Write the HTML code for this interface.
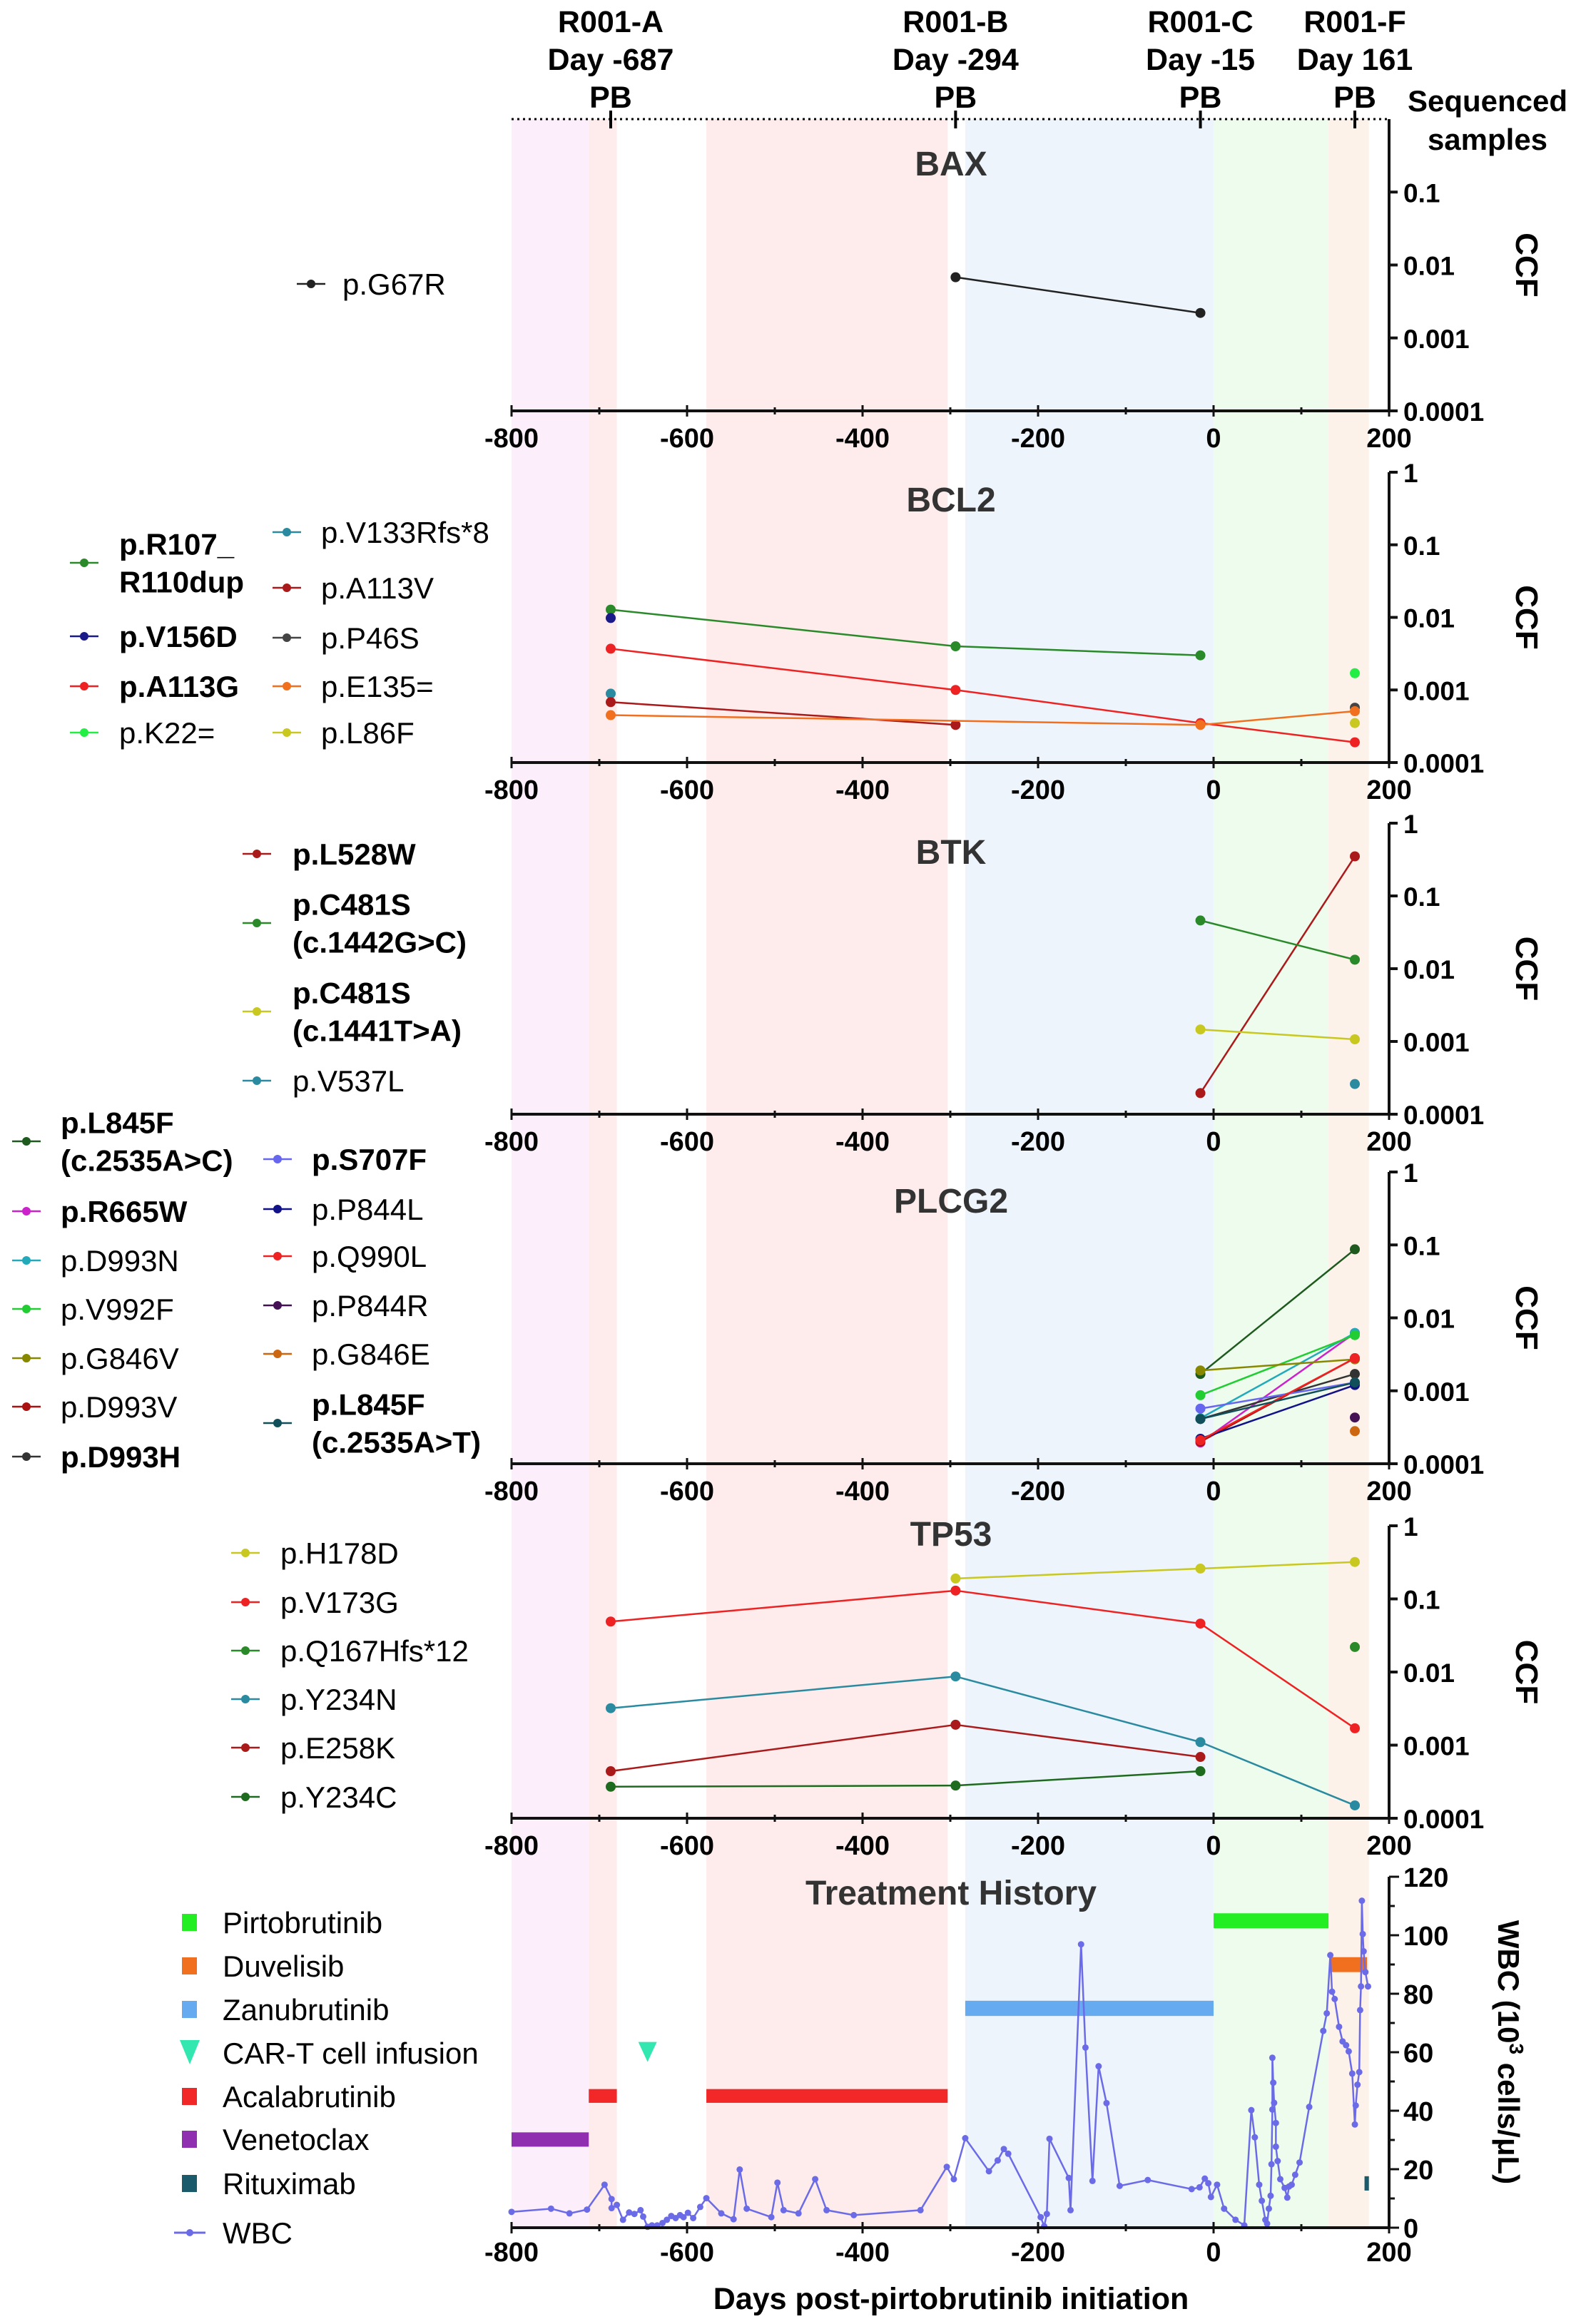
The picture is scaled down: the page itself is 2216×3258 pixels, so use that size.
<!DOCTYPE html>
<html><head><meta charset="utf-8"><style>
html,body{margin:0;padding:0;background:#fff}
svg{display:block;font-family:"Liberation Sans",Arial,sans-serif}
</style></head><body>
<svg id="chart" width="2216" height="3258" viewBox="0 0 2216 3258"></svg>
<script>
// ---- data ----
const sampleNames = ["R001-A","R001-B","R001-C","R001-F"];
const sampleDays = [-687,-294,-15,161];
const xTicks = [-800,-600,-400,-200,0,200];
const ccfTicks = [1,0.1,0.01,0.001,0.0001];
const ccfTickLabels = ["1","0.1","0.01","0.001","0.0001"];

const baxNames = ["p.G67R"];
const baxValues = [[null,0.0068,0.0022,null]];

const bcl2Names = ["p.R107_\nR110dup","p.V156D","p.A113G","p.K22=","p.V133Rfs*8","p.A113V","p.P46S","p.E135=","p.L86F"];
const bcl2Values = [
 [0.0128,0.004,0.003,null],
 [0.0098,null,null,null],
 [0.0037,0.001,0.00035,0.00019],
 [null,null,null,0.0017],
 [0.00089,null,null,null],
 [0.00068,0.00033,null,null],
 [null,null,null,0.00057],
 [0.00045,null,0.00033,0.00051],
 [null,null,null,0.00035]];

const btkNames = ["p.L528W","p.C481S\n(c.1442G>C)","p.C481S\n(c.1441T>A)","p.V537L"];
const btkValues = [
 [null,null,0.000195,0.35],
 [null,null,0.046,0.0133],
 [null,null,0.00146,0.00107],
 [null,null,null,0.00026]];

const plcg2Names = ["p.L845F\n(c.2535A>C)","p.R665W","p.D993N","p.V992F","p.G846V","p.D993V","p.D993H","p.S707F","p.P844L","p.Q990L","p.P844R","p.G846E","p.L845F\n(c.2535A>T)"];
const plcg2Values = [
 [null,null,0.0017,0.087],
 [null,null,0.000195,0.0062],
 [null,null,0.00042,0.0062],
 [null,null,0.00087,0.0058],
 [null,null,0.0019,0.0027],
 [null,null,0.0002,0.0028],
 [null,null,0.00041,0.0017],
 [null,null,0.00057,0.0013],
 [null,null,0.00022,0.0012],
 [null,null,0.00021,0.0028],
 [null,null,null,0.00043],
 [null,null,null,0.00028],
 [null,null,0.00041,0.0013]];

const tp53Names = ["p.H178D","p.V173G","p.Q167Hfs*12","p.Y234N","p.E258K","p.Y234C"];
const tp53Values = [
 [null,0.19,0.26,0.32],
 [0.049,0.13,0.046,0.0017],
 [null,null,null,0.022],
 [0.0032,0.0087,0.0011,0.00015],
 [0.00044,0.0019,0.00069,null],
 [0.00027,0.00028,0.00044,null]];

const wbcDays = [-800,-755,-734,-714,-694,-686,-686,-680,-673,-666,-660,-653,-650,-645,-640,-634,-628,-623,-618,-613,-608,-604,-599,-593,-585,-578,-561,-547,-540,-532,-504,-497,-490,-473,-454,-441,-410,-334,-304,-296,-283,-256,-246,-239,-234,-197,-193,-190,-187,-165,-163,-151,-146,-138,-131,-122,-107,-75,-25,-16,-10,-6,-3,4,12,25,35,43,47,52,55,59,61,63,65,66,67,67,68,69,71,71,73,76,81,84,86,89,93,98,109,125,129,133,135,138,143,147,151,154,158,161,162,164,166,167,168,169,170,171,173,176];
const wbcValues = [5.4,6.5,4.9,6.2,14.7,9.8,6.7,7.8,2.7,5.2,4.7,6.0,3.8,0.3,0.8,0.8,1.6,2.7,4.0,3.3,4.3,3.6,5.1,3.3,7.1,10.1,4.9,2.9,19.9,6.5,3.6,15.4,6.0,4.9,16.6,6.0,4.3,6.0,20.8,16.6,30.6,19.3,23.0,26.9,25.3,3.6,0.5,4.7,30.4,17.0,6.0,96.9,61.6,16.0,55.2,42.6,14.3,16.3,13.2,13.8,16.8,15.2,10.5,14.7,6.5,2.7,0.8,40.2,30.9,14.7,9.2,2.7,1.4,6.5,10.9,21.7,40.4,58.1,49.6,42.7,35.8,27.7,22.8,16.6,13.6,10.3,14.1,14.7,18.1,22.3,41.3,67.3,73.3,93.2,80.7,78.2,68.7,63.7,62.4,60.3,52.7,35.3,41.8,48.9,53.2,74.4,82.5,111.8,100.4,94.5,87.4,82.5];
const wbcTicks = [0,20,40,60,80,100,120];

const treatNames = ["Pirtobrutinib","Duvelisib","Zanubrutinib","CAR-T cell infusion","Acalabrutinib","Venetoclax","Rituximab","WBC"];
const treatStart = [0,133,-283,null,-712,-800,172,null];
const treatEnd = [131,175,0,null,-303,-712,177,null];
const treatLow = [102.4,87.4,72.4,null,42.7,27.7,12.7,null];
const treatHigh = [107.5,92.5,77.6,null,47.4,32.6,17.6,null];
const acalaSegments = [[-712,-680],[-578,-303]];
const cartDay = [-645];
const cartLevel = [63.5];

const bandStart = [-800,-712,-578,-283,0,131];
const bandEnd = [-712,-680,-303,0,131,177];

// ---- helpers / layout ----
const NS="http://www.w3.org/2000/svg";
const svg=document.getElementById('chart');
function mk(tag,attrs,parent){const e=document.createElementNS(NS,tag);for(const k in attrs)e.setAttribute(k,attrs[k]);(parent||svg).appendChild(e);return e;}
function txt(s,x,y,o,parent){const e=mk('text',Object.assign({x:x,y:y,'font-size':40,fill:'#000'},o||{}),parent);e.textContent=s;return e;}
const X0=717,X1=1947;
function xs(d){return X0+(d+800)*(X1-X0)/1000;}
const bandColors=['#fdeefb','#fdeceb','#fdeceb','#edf4fc','#eefcee','#fdf2ea'];

const bg=mk('g',{});


for(let i=0;i<bandStart.length;i++){
  const r=mk('rect',{x:xs(bandStart[i]),y:167,width:xs(bandEnd[i])-xs(bandStart[i]),height:3123-167,fill:bandColors[i]},bg);
  
  
}

// top sample header
const hdr=mk('g',{});


mk('line',{x1:X0,y1:167,x2:X1,y2:167,stroke:'#000','stroke-width':3,'stroke-dasharray':'3,5'},hdr);
for(let i=0;i<sampleDays.length;i++){
  const x=xs(sampleDays[i]);
  const g=mk('g',{},hdr);
  
  
  txt(sampleNames[i],x,45,{'text-anchor':'middle','font-weight':'bold','font-size':43},g);
  txt('Day '+sampleDays[i],x,98,{'text-anchor':'middle','font-weight':'bold','font-size':43},g);
  txt('PB',x,151,{'text-anchor':'middle','font-weight':'bold','font-size':43},g);
  mk('line',{x1:x,y1:155,x2:x,y2:180,stroke:'#000','stroke-width':4},g);
}
txt('Sequenced',2085,156,{'text-anchor':'middle','font-weight':'bold','font-size':42},hdr);
txt('samples',2085,210,{'text-anchor':'middle','font-weight':'bold','font-size':42},hdr);

function xAxis(y,labelY,parent){
  const g=mk('g',{},parent);
  
  
  mk('line',{x1:X0,y1:y,x2:X1,y2:y,stroke:'#111','stroke-width':4},g);
  for(let d=-800;d<=200;d+=100){
    const major=(d%200===0);
    mk('line',{x1:xs(d),y1:y-(major?8:5),x2:xs(d),y2:y+(major?8:5),stroke:'#111','stroke-width':3},g);
  }
  xTicks.forEach(t=>{const e=txt(String(t),xs(t),labelY,{'text-anchor':'middle','font-weight':'bold','font-size':38},g);
    });
}

function panel(name,title,titleY,top,bot,names,values,colors,bolds,legend,showTop){
  const g=mk('g',{});
  
  
  const ys=v=>top+(-Math.log10(v))*(bot-top)/4;
  const t=txt(title,1333,titleY,{'text-anchor':'middle','font-weight':'bold','font-size':48,fill:'#333'},g);
  
  mk('line',{x1:X1,y1:top,x2:X1,y2:bot,stroke:'#111','stroke-width':4},g);
  ccfTicks.forEach((v,i)=>{
    if(!showTop && i===0) return;
    const y=ys(v);
    mk('line',{x1:X1,y1:y,x2:X1+12,y2:y,stroke:'#111','stroke-width':4},g);
    const e=txt(ccfTickLabels[i],X1+20,y+14,{'font-weight':'bold','font-size':37},g);
    
  });
  const cy=(top+bot)/2;
  const c=txt('CCF',2125,cy,{'text-anchor':'middle','font-weight':'bold','font-size':44,transform:'rotate(90 2125 '+cy+')'},g);
  
  xAxis(bot,bot+51,g);
  values.forEach((vals,si)=>{
    const sg=mk('g',{},g);
    
    
    let pts=[];
    vals.forEach((v,j)=>{ if(v!=null) pts.push([xs(sampleDays[j]),ys(v)]); });
    for(let k=0;k<pts.length-1;k++){
      mk('line',{x1:pts[k][0],y1:pts[k][1],x2:pts[k+1][0],y2:pts[k+1][1],stroke:colors[si],'stroke-width':2.5},sg);
    }
    pts.forEach(p=>{const m=mk('circle',{cx:p[0],cy:p[1],r:7,fill:colors[si]},sg);
      });
  });
  legend.forEach((L,si)=>{
    const lg=mk('g',{},g);
    
    
    mk('line',{x1:L[0]-20,y1:L[1],x2:L[0]+20,y2:L[1],stroke:colors[si],'stroke-width':2.5},lg);
    mk('circle',{cx:L[0],cy:L[1],r:6,fill:colors[si]},lg);
    const lines=names[si].split('\n');
    const lh=53;
    const y0=L[1]-(lines.length-1)*lh/2+15;
    lines.forEach((s,k)=>txt(s,L[2],y0+k*lh,{'font-size':42,'font-weight':bolds[si]?'bold':'normal'},lg));
  });
}

panel('bax','BAX',246,167,576,baxNames,baxValues,['#222'],[false],[[436,398,480]],false);
panel('bcl2','BCL2',717,662,1069,bcl2Names,bcl2Values,
 ['#2a8a2a','#1a1a88','#ee2222','#22ee44','#2a8aa0','#aa1a1a','#444','#f07020','#c8c820'],
 [true,true,true,false,false,false,false,false,false],
 [[118,789,167],[118,892,167],[118,962,167],[118,1027,167],[402,746,450],[402,824,450],[402,894,450],[402,962,450],[402,1027,450]],true);
panel('btk','BTK',1211,1154,1562,btkNames,btkValues,
 ['#aa1a1a','#2a8a2a','#c8c820','#2a8aa0'],[true,true,true,false],
 [[360,1197,410],[360,1294,410],[360,1418,410],[360,1515,410]],true);
panel('plcg2','PLCG2',1700,1643,2052,plcg2Names,plcg2Values,
 ['#1e5a1e','#cc22cc','#22aabb','#22cc33','#888800','#aa1111','#333','#6666ee','#111188','#ee2222','#441155','#cc6611','#11505a'],
 [true,true,false,false,false,false,true,true,false,false,false,false,true],
 [[37,1600,85],[37,1698,85],[37,1767,85],[37,1835,85],[37,1904,85],[37,1972,85],[37,2042,85],[389,1625,437],[389,1695,437],[389,1761,437],[389,1830,437],[389,1898,437],[389,1995,437]],true);
panel('tp53','TP53',2167,2139,2549,tp53Names,tp53Values,
 ['#c8c820','#ee2222','#2a8a2a','#2a8aa0','#aa1a1a','#1e6a1e'],[false,false,false,false,false,false],
 [[344,2177,393],[344,2246,393],[344,2314,393],[344,2382,393],[344,2450,393],[344,2519,393]],true);

// ---- treatment history ----
const tg=mk('g',{});


const W0=3123,W1=2631;
const yw=v=>W0-v*(W0-W1)/120;
const tt=txt('Treatment History',1333,2670,{'text-anchor':'middle','font-weight':'bold','font-size':48,fill:'#333'},tg);

const treatColors=['#22ee22','#f07020','#66aaf0','#33e8b0','#f22828','#9030b0','#1a5a6a','#6b6be8'];
for(let i=0;i<treatNames.length;i++){
  if(treatStart[i]==null) continue;
  if(i===4){
    acalaSegments.forEach(s=>{const r=mk('rect',{x:xs(s[0]),y:yw(treatHigh[i]),width:xs(s[1])-xs(s[0]),height:yw(treatLow[i])-yw(treatHigh[i]),fill:treatColors[i]},tg);
      });
    continue;
  }
  const r=mk('rect',{x:xs(treatStart[i]),y:yw(treatHigh[i]),width:xs(treatEnd[i])-xs(treatStart[i]),height:yw(treatLow[i])-yw(treatHigh[i]),fill:treatColors[i]},tg);
  
  
}
cartDay.forEach((d,i)=>{
  const x=xs(d),y=yw(cartLevel[i]);
  const p=mk('polygon',{points:`${x-13},${y} ${x+13},${y} ${x},${y+28}`,fill:treatColors[3]},tg);
  
  
});
const wl=mk('polyline',{points:wbcDays.map((d,i)=>xs(d)+','+yw(wbcValues[i])).join(' '),fill:'none',stroke:treatColors[7],'stroke-width':2.5},tg);


wbcDays.forEach((d,i)=>{const c=mk('circle',{cx:xs(d),cy:yw(wbcValues[i]),r:4.5,fill:treatColors[7]},tg);
  });
mk('line',{x1:X1,y1:W1,x2:X1,y2:W0,stroke:'#111','stroke-width':4},tg);
for(let v=0;v<=120;v+=10){
  const major=v%20===0;
  mk('line',{x1:X1,y1:yw(v),x2:X1+(major?14:8),y2:yw(v),stroke:'#111','stroke-width':3},tg);
}
wbcTicks.forEach(v=>{const e=txt(String(v),X1+20,yw(v)+14,{'font-weight':'bold','font-size':38},tg);
  });
const wt=mk('text',{x:2100,y:2877,'text-anchor':'middle','font-weight':'bold','font-size':42,transform:'rotate(90 2100 2877)'},tg);

wt.innerHTML='WBC (10<tspan dy="-16" font-size="28">3</tspan><tspan dy="16"> cells/μL)</tspan>';
xAxis(W0,3170,tg);
const xt=txt('Days post-pirtobrutinib initiation',1333,3237,{'text-anchor':'middle','font-weight':'bold','font-size':43},tg);

const legY=[2695,2756,2817,2878,2939,2999,3061,3130];
treatNames.forEach((n,i)=>{
  const lg=mk('g',{},tg);
  
  
  const y=legY[i];
  if(i===3) mk('polygon',{points:`252,${y-18} 280,${y-18} 266,${y+16}`,fill:treatColors[i]},lg);
  else if(i===7){mk('line',{x1:244,y1:y,x2:288,y2:y,stroke:treatColors[i],'stroke-width':3},lg);mk('circle',{cx:266,cy:y,r:5,fill:treatColors[i]},lg);}
  else mk('rect',{x:255,y:y-12,width:21,height:24,fill:treatColors[i]},lg);
  txt(n,312,y+15,{'font-size':42},lg);
});
</script>
</body></html>
